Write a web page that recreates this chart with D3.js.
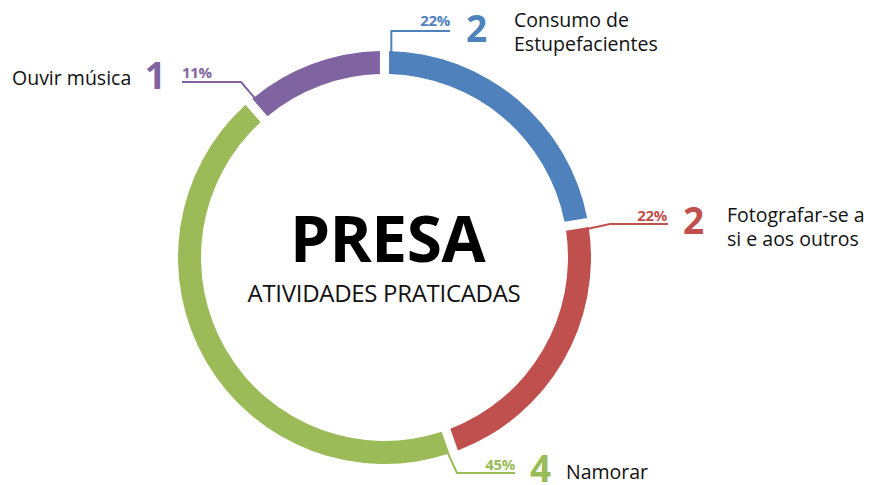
<!DOCTYPE html>
<html>
<head>
<meta charset="utf-8">
<script src="https://cdn.jsdelivr.net/npm/d3@7"></script>
<style>
  html, body { margin: 0; padding: 0; background: #ffffff; }
  svg { display: block; font-family: "Open Sans", "DejaVu Sans", sans-serif; }
</style>
</head>
<body>
<svg id="chart" width="873" height="485"></svg>
<script>
// ---- data ----
const categories = ["Consumo de Estupefacientes", "Fotografar-se a si e aos outros", "Namorar", "Ouvir música"];
const labelLines = [["Consumo de", "Estupefacientes"], ["Fotografar-se a", "si e aos outros"], ["Namorar"], ["Ouvir música"]];
const counts = [2, 2, 4, 1];
const percentLabels = ["22%", "22%", "45%", "11%"];
const colors = ["#4f81bd", "#c0504d", "#9bbb59", "#8064a2"];
const title = "PRESA";
const subtitle = "ATIVIDADES PRATICADAS";

// ---- layout ----
const width = 873, height = 485;
const cx = 384.5, cy = 257.5;
const outerR = 206.5, innerR = 183.5, midR = (outerR + innerR) / 2;

// label layout: elbow point, end of line, text positions
const layout = [
  { elbow: "vertical", elbowY: 31, endX: 450, side: "right",
    pct: [450, 26], digit: [466, 42], text: [514, 27], lh: 24 },
  { elbowX: 610, elbowY: 224, endX: 668, side: "right",
    pct: [667, 221], digit: [683, 234], text: [727, 222], lh: 24 },
  { elbowX: 457, elbowY: 473, endX: 515, side: "right",
    pct: [515, 470], digit: [530, 482], text: [566, 479], lh: 24 },
  { elbowX: 241, elbowY: 82, endX: 182, side: "left",
    pct: [182, 78], digit: [166, 89], text: [12, 85], lh: 24 }
];

const svg = d3.select("#chart");
const g = svg.append("g").attr("transform", `translate(${cx},${cy})`);

const pie = d3.pie().sort(null).value(d => d).padAngle(0.033);
const arcs = pie(counts);
const arc = d3.arc().innerRadius(innerR).outerRadius(outerR);

g.selectAll("path.slice")
  .data(arcs)
  .join("path")
  .attr("class", "slice")
  .attr("d", arc)
  .attr("fill", (d, i) => colors[i]);

// leader lines
const pt = (angle, r) => [cx + r * Math.sin(angle), cy - r * Math.cos(angle)];

arcs.forEach((a, i) => {
  const L = layout[i];
  const start = pt(a.startAngle + 0.035, midR);
  const elbow = L.elbow === "vertical" ? [start[0], L.elbowY] : [L.elbowX, L.elbowY];
  const end = [L.endX, L.elbowY];
  svg.append("path")
    .attr("d", d3.line()([start, elbow, end]))
    .attr("fill", "none")
    .attr("stroke", colors[i])
    .attr("stroke-width", 2);

  svg.append("text")
    .attr("x", L.pct[0]).attr("y", L.pct[1])
    .attr("text-anchor", L.side === "right" ? "end" : "start")
    .attr("font-size", 15)
    .attr("font-weight", 700)
    .attr("letter-spacing", -0.3)
    .attr("fill", colors[i])
    .text(percentLabels[i]);

  svg.append("text")
    .attr("x", L.digit[0]).attr("y", L.digit[1])
    .attr("text-anchor", L.side === "right" ? "start" : "end")
    .attr("font-size", 37)
    .attr("font-weight", 700)
    .attr("fill", colors[i])
    .text(counts[i]);

  labelLines[i].forEach((line, k) => {
    svg.append("text")
      .attr("x", L.text[0])
      .attr("y", L.text[1] + k * L.lh)
      .attr("font-size", 19.5)
      .attr("fill", "#111111")
      .text(line);
  });
});

// center text
svg.append("text")
  .attr("x", 387.5).attr("y", 262)
  .attr("text-anchor", "middle")
  .attr("font-size", 64)
  .attr("font-weight", 700)
  .attr("letter-spacing", -0.5)
  .attr("fill", "#000000")
  .text(title);

svg.append("text")
  .attr("x", 384).attr("y", 302)
  .attr("text-anchor", "middle")
  .attr("font-size", 24)
  .attr("letter-spacing", -0.3)
  .attr("fill", "#111111")
  .text(subtitle);
</script>
</body>
</html>
